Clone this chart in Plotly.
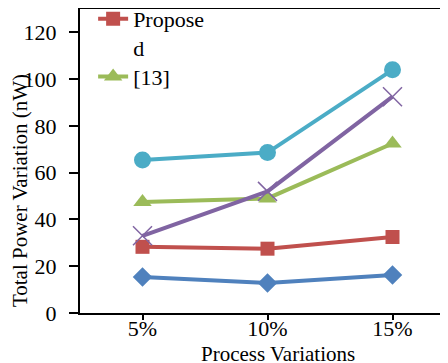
import plotly.graph_objects as go

categories = ["5%", "10%", "15%"]
series_blue = [15.4, 12.8, 16.2]
series_proposed = [28.3, 27.5, 32.5]
series_13 = [47.5, 49.0, 72.5]
series_purple = [33.0, 52.0, 92.5]
series_cyan = [65.4, 68.6, 104.0]
y_ticks = [0, 20, 40, 60, 80, 100, 120]

FONT = "Liberation Serif"

fig = go.Figure()
fig.add_trace(go.Scatter(x=categories, y=series_blue, mode="lines+markers", name="Series 1",
                         showlegend=False, line=dict(color="#4F81BD", width=4),
                         marker=dict(symbol="diamond", size=15, color="#4F81BD")))
fig.add_trace(go.Scatter(x=categories, y=series_proposed, mode="lines+markers", name="Propose<br>d",
                         legend="legend",
                         line=dict(color="#C0504D", width=4),
                         marker=dict(symbol="square", size=14, color="#C0504D")))
fig.add_trace(go.Scatter(x=categories, y=series_13, mode="lines+markers", name="[13]",
                         legend="legend2",
                         line=dict(color="#9BBB59", width=4),
                         marker=dict(symbol="triangle-up", size=16, color="#9BBB59")))
fig.add_trace(go.Scatter(x=categories, y=series_purple, mode="lines+markers", name="Series 4",
                         showlegend=False, line=dict(color="#8064A2", width=4),
                         marker=dict(symbol="x-thin-open", size=19, color="#8064A2",
                                     line=dict(color="#8064A2", width=1.5))))
fig.add_trace(go.Scatter(x=categories, y=series_cyan, mode="lines+markers", name="Series 5",
                         showlegend=False, line=dict(color="#4BACC6", width=4),
                         marker=dict(symbol="circle", size=17, color="#4BACC6")))

legend_style = dict(xanchor="left", yanchor="top", valign="top", bgcolor="rgba(0,0,0,0)",
                    font=dict(family=FONT, size=22, color="black"))

fig.update_layout(
    width=448, height=363,
    margin=dict(l=72, r=1, t=1, b=58, autoexpand=False),
    paper_bgcolor="white", plot_bgcolor="white",
    font=dict(family=FONT, size=22, color="black"),
    legend=dict(x=0.035, y=1.036, **legend_style),
    legend2=dict(x=0.035, y=0.846, **legend_style),
    xaxis=dict(
        type="category", range=[-0.5, 2.5],
        showline=True, linecolor="black", linewidth=2, mirror=True,
        ticks="outside", ticklen=5, tickwidth=2, tickcolor="black",
        ticklabelstandoff=-10,
        showgrid=False, zeroline=False,
    ),
    yaxis=dict(
        range=[0, 130], tickvals=y_ticks,
        showline=True, linecolor="black", linewidth=2, mirror=True,
        ticks="outside", ticklen=9, tickwidth=2, tickcolor="black",
        ticklabelstandoff=8,
        showgrid=False, zeroline=False,
    ),
    annotations=[
        dict(text="Process Variations", xref="paper", yref="paper", x=0.527, y=0,
             xanchor="center", yanchor="middle", yshift=-41, showarrow=False,
             font=dict(family=FONT, size=21, color="black")),
        dict(text="Total Power Variation (nW)", xref="paper", yref="paper", x=0, y=0.401,
             xanchor="center", yanchor="middle", xshift=-60, textangle=-90, showarrow=False,
             font=dict(family=FONT, size=21, color="black")),
    ],
)

fig.write_html("out.html")
